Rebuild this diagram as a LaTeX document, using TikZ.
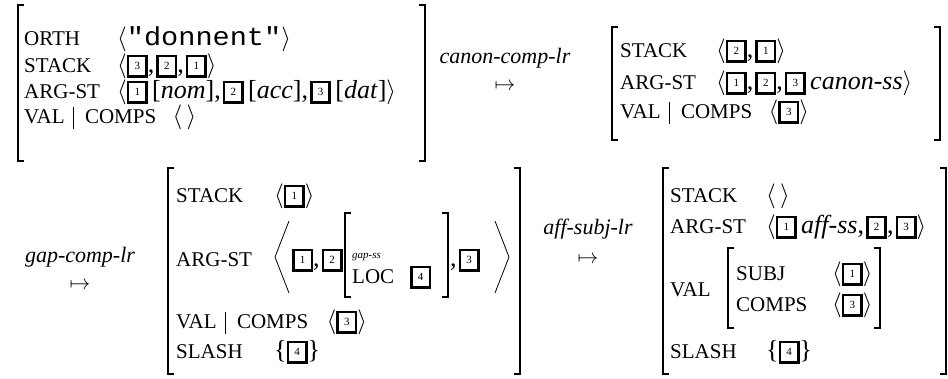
\documentclass[tikz,border=0pt]{standalone}
\usepackage{fontspec}
\setmainfont{Liberation Serif}
\setmonofont{Liberation Mono}
\usepackage{graphicx}
\usetikzlibrary{calc}
\newcommand\ftsz{\fontsize{21}{21}\selectfont}
\newcommand\vlsz{\fontsize{26}{26}\selectfont}
\newcommand\lbsz{\fontsize{22}{22}\selectfont}
\newcommand\tg[1]{\raisebox{-5.5pt}{\vbox{\hrule height 2.6pt\hbox{\vrule width 2.6pt\hbox to 15.8pt{\hss\rule{0pt}{17.8pt}\raisebox{5pt}{\fontsize{11}{11}\selectfont #1}\hss}\vrule width 2.6pt}\hrule height 2.6pt}}}
\newcommand\la{$\langle$}
\newcommand\ra{$\rangle$}
\newcommand\LB[3]{\draw[brk] (#1+6,#2) -- (#1,#2) -- (#1,#3) -- (#1+6,#3);}
\newcommand\RB[3]{\draw[brk] (#1-6,#2) -- (#1,#2) -- (#1,#3) -- (#1-6,#3);}
\begin{document}
\begin{tikzpicture}[x=1pt,y=-1pt,
  ft/.style={anchor=base west,inner sep=0pt,font=\ftsz},
  vl/.style={anchor=base west,inner sep=0pt,font=\vlsz},
  lab/.style={anchor=base,inner sep=0pt,font=\lbsz\itshape},
  arr/.style={inner sep=0pt,font=\lbsz},
  brk/.style={line width=2pt},
  thinl/.style={line width=0.8pt}]
\useasboundingbox (0,0) rectangle (948,378);

% ---------- AVM 1 ----------
\LB{18}{5}{161} \RB{425}{5}{161}
\node[ft] (orth1) at (24,45) {ORTH};
\node[vl] (orth1v) at (117,45) {\la\scalebox{1.1}[1]{\texttt{"donnent"}}\ra};
\node[ft] (stack1) at (24,72) {STACK};
\node[vl] (stack1v) at (117,72) {\la\tg{3},\hspace{2pt}\tg{2},\hspace{2pt}\tg{1}\ra};
\node[ft] (argst1) at (24,98) {ARG-ST};
\node[vl] (argst1v) at (117,98) {\la\tg{1}\,[\textit{nom}],\hspace{2pt}\tg{2}\,[\textit{acc}],\hspace{2pt}\tg{3}\,[\textit{dat}]\ra};
\node[ft] (val1) at (24,123) {VAL};
\draw[thinl] ($(val1.base east)+(9,6)$) -- ($(val1.base east)+(9,-16)$);
\node[ft] (comps1) at ($(val1.base east)+(20,0)$) {COMPS};
\node[vl] (comps1v) at ($(comps1.base east)+(16,0)$) {\la\,\ra};

% ---------- label 1 ----------
\node[lab] (canon) at (505,63) {canon-comp-lr};
\node[arr] (mt1) at (505,87) {$\mapsto$};

% ---------- AVM 2 ----------
\LB{612}{27}{140} \RB{940}{27}{140}
\node[ft] (stack2) at (620,57) {STACK};
\node[vl] (stack2v) at (716,57) {\la\tg{2},\hspace{2pt}\tg{1}\ra};
\node[ft] (argst2) at (620,89) {ARG-ST};
\node[vl] (argst2v) at (716,89) {\la\tg{1},\hspace{2pt}\tg{2},\hspace{2pt}\tg{3}\,\textit{canon-ss}\ra};
\node[ft] (val2) at (620,118) {VAL};
\draw[thinl] ($(val2.base east)+(9,6)$) -- ($(val2.base east)+(9,-16)$);
\node[ft] (comps2) at ($(val2.base east)+(20,0)$) {COMPS};
\node[vl] (comps2v) at ($(comps2.base east)+(16,0)$) {\la\tg{3}\ra};

% ---------- label 2 ----------
\node[lab] (gap) at (80,262) {gap-comp-lr};
\node[arr] (mt2) at (80,286) {$\mapsto$};

% ---------- AVM 3 ----------
\LB{168}{168}{374} \RB{520}{168}{374}
\node[ft] (stack3) at (176,202) {STACK};
\node[vl] (stack3v) at (274,202) {\la\tg{1}\ra};
\node[ft] (argst3) at (176,266) {ARG-ST};
\draw[thinl] (289,221) -- (275,257) -- (289,293);
\node[vl] (a3a) at (292,266) {\tg{1},\hspace{2pt}\tg{2}};
\LB{345}{213}{297}
\node[anchor=base west,inner sep=0pt,font=\fontsize{11}{11}\selectfont\itshape] (gss) at (352,258) {gap-ss};
\node[ft] (loc) at (352,283) {LOC};
\node[vl] (loc4) at (410,283) {\tg{4}};
\RB{448}{213}{297}
\node[vl] (a3b) at (450,266) {,\hspace{2pt}\tg{3}};
\draw[thinl] (495,221) -- (509,257) -- (495,293);
\node[ft] (val3) at (176,328) {VAL};
\draw[thinl] ($(val3.base east)+(9,6)$) -- ($(val3.base east)+(9,-16)$);
\node[ft] (comps3) at ($(val3.base east)+(20,0)$) {COMPS};
\node[vl] (comps3v) at ($(comps3.base east)+(18,0)$) {\la\tg{3}\ra};
\node[ft] (slash3) at (176,358) {SLASH};
\node[vl] (slash3v) at (274,358) {\{\tg{4}\}};

% ---------- label 3 ----------
\node[lab] (aff) at (588,234) {aff-subj-lr};
\node[arr] (mt3) at (588,260) {$\mapsto$};

% ---------- AVM 4 ----------
\LB{663}{168}{374} \RB{946}{168}{374}
\node[ft] (stack4) at (670,202) {STACK};
\node[vl] (stack4v) at (766,202) {\la\,\ra};
\node[ft] (argst4) at (670,233) {ARG-ST};
\node[vl] (argst4v) at (766,233) {\la\tg{1}\,\textit{aff-ss},\hspace{2pt}\tg{2},\hspace{2pt}\tg{3}\ra};
\node[ft] (val4) at (670,296) {VAL};
\LB{728}{248}{328}
\node[ft] (subj4) at (736,280) {SUBJ};
\node[vl] (subj4v) at (832,280) {\la\tg{1}\ra};
\node[ft] (comps4) at (736,311) {COMPS};
\node[vl] (comps4v) at (832,311) {\la\tg{3}\ra};
\RB{880}{248}{328}
\node[ft] (slash4) at (670,358) {SLASH};
\node[vl] (slash4v) at (766,358) {\{\tg{4}\}};
\end{tikzpicture}
\end{document}
